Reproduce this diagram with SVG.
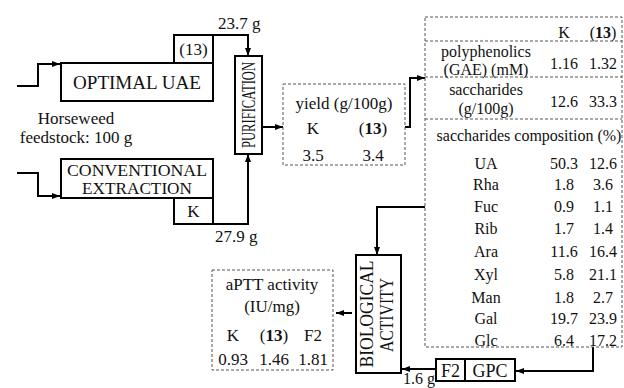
<svg xmlns="http://www.w3.org/2000/svg" width="624" height="388" viewBox="0 0 624 388">
<defs>
<marker id="ah" viewBox="0 0 8 6" refX="8" refY="3" markerWidth="8" markerHeight="6" markerUnits="userSpaceOnUse" orient="auto">
<path d="M0,0 L8,3 L0,6 z" fill="#000"/>
</marker>
<style>
text{font-family:"Liberation Serif","Times New Roman",serif;fill:#111;}
.box{fill:#fff;stroke:#000;stroke-width:2;}
.dash{fill:#fff;stroke:#555;stroke-width:1;stroke-dasharray:3,2;}
.dl{stroke:#555;stroke-width:1;stroke-dasharray:3,2;fill:none;}
.c{stroke:#000;stroke-width:2;fill:none;}
.ca{stroke:#000;stroke-width:2;fill:none;marker-end:url(#ah);}
.m{text-anchor:middle;}
.t16{font-size:16px;}
.t17{font-size:17px;}
.t18{font-size:18px;}
.t19{font-size:19px;}
.b{font-weight:bold;}
</style>
</defs>
<rect width="624" height="388" fill="#fff"/>

<g id="connectors">
<path class="ca" d="M17,86 H38 V64 H60"/>
<path class="ca" d="M17,173 H38 V196 H60"/>
<path class="ca" d="M213,35 H248 V56"/>
<path class="ca" d="M213,224 H248 V154"/>
<path class="ca" d="M262,127 H283"/>
<path class="ca" d="M405,127 H410 V78 H425"/>
<path class="ca" d="M425,207 H377 V255"/>
<path class="ca" d="M352,313 H336"/>
<path class="ca" d="M593,347 V371 H516"/>
<path class="ca" d="M436,369 H402"/>
</g>

<g id="label-23-7">
<text class="t17" x="218" y="29">23.7 g</text>
</g>
<g id="label-27-9">
<text class="t17" x="215" y="242">27.9 g</text>
</g>
<g id="label-1-6">
<text class="t16" x="403" y="384">1.6 g</text>
</g>

<g id="feedstock">
<text class="t17 m" x="76" y="124">Horseweed</text>
<text class="t17 m" x="76" y="143">feedstock: 100 g</text>
</g>

<g id="optimal-uae">
<rect class="box" x="174" y="35" width="39" height="28"/>
<text class="t17 m" x="193.5" y="55">(13)</text>
<rect class="box" x="61" y="63" width="152" height="38"/>
<text class="t18 m" x="137" y="89" textLength="128" lengthAdjust="spacingAndGlyphs">OPTIMAL UAE</text>
</g>

<g id="conventional">
<rect class="box" x="61" y="159" width="152" height="39"/>
<text class="t17 m" x="137" y="176" textLength="140" lengthAdjust="spacingAndGlyphs">CONVENTIONAL</text>
<text class="t17 m" x="137" y="194" textLength="110" lengthAdjust="spacingAndGlyphs">EXTRACTION</text>
<rect class="box" x="174" y="198" width="39" height="26"/>
<text class="t17 m" x="193.5" y="217">K</text>
</g>

<g id="purification">
<rect class="box" x="235" y="56" width="27" height="98"/>
<text class="t19 m" transform="translate(255,105) rotate(-90)" x="0" y="0" textLength="86" lengthAdjust="spacingAndGlyphs">PURIFICATION</text>
</g>

<g id="yield">
<rect class="dash" x="283" y="84" width="122" height="81"/>
<text class="t17 m" x="344" y="109">yield (g/100g)</text>
<text class="t17 m" x="313" y="134">K</text>
<text class="t17 m" x="373" y="134">(<tspan class="b">13</tspan>)</text>
<text class="t17 m" x="313" y="161">3.5</text>
<text class="t17 m" x="373" y="161">3.4</text>
</g>

<g id="composition-table">
<rect class="dash" x="425" y="17" width="197" height="330"/>
<path class="dl" d="M425,41 H622 M425,77 H622 M425,119 H622"/>
<text class="t16 m" x="564" y="38">K</text>
<text class="t16 m" x="603" y="38">(<tspan class="b">13</tspan>)</text>
<text class="t16 m" x="486" y="57">polyphenolics</text>
<text class="t16 m" x="486" y="75">(GAE) (mM)</text>
<text class="t16 m" x="564" y="69">1.16</text>
<text class="t16 m" x="603" y="69">1.32</text>
<text class="t16 m" x="486" y="95">saccharides</text>
<text class="t16 m" x="486" y="114">(g/100g)</text>
<text class="t16 m" x="564" y="107">12.6</text>
<text class="t16 m" x="603" y="107">33.3</text>
<text class="t16 m" x="529" y="141">saccharides composition (%)</text>
<g class="t16">
<text class="m" x="486" y="169">UA</text><text class="m" x="564" y="169">50.3</text><text class="m" x="603" y="169">12.6</text>
<text class="m" x="486" y="190">Rha</text><text class="m" x="564" y="190">1.8</text><text class="m" x="603" y="190">3.6</text>
<text class="m" x="486" y="212">Fuc</text><text class="m" x="564" y="212">0.9</text><text class="m" x="603" y="212">1.1</text>
<text class="m" x="486" y="234">Rib</text><text class="m" x="564" y="234">1.7</text><text class="m" x="603" y="234">1.4</text>
<text class="m" x="486" y="257">Ara</text><text class="m" x="564" y="257">11.6</text><text class="m" x="603" y="257">16.4</text>
<text class="m" x="486" y="280">Xyl</text><text class="m" x="564" y="280">5.8</text><text class="m" x="603" y="280">21.1</text>
<text class="m" x="486" y="303">Man</text><text class="m" x="564" y="303">1.8</text><text class="m" x="603" y="303">2.7</text>
<text class="m" x="486" y="324">Gal</text><text class="m" x="564" y="324">19.7</text><text class="m" x="603" y="324">23.9</text>
<text class="m" x="486" y="346">Glc</text><text class="m" x="564" y="346">6.4</text><text class="m" x="603" y="346">17.2</text>
</g>
</g>

<g id="gpc">
<rect class="box" x="436" y="359" width="79" height="22"/>
<line x1="465" y1="359" x2="465" y2="381" stroke="#000" stroke-width="2"/>
<text class="t18 m" x="450.5" y="377">F2</text>
<text class="t18 m" x="490" y="377">GPC</text>
</g>

<g id="biological-activity">
<rect class="box" x="356" y="255" width="45" height="118"/>
<text class="t19 m" transform="translate(373,314) rotate(-90)" x="0" y="0" textLength="107" lengthAdjust="spacingAndGlyphs">BIOLOGICAL</text>
<text class="t19 m" transform="translate(393,315) rotate(-90)" x="0" y="0" textLength="74" lengthAdjust="spacingAndGlyphs">ACTIVITY</text>
</g>

<g id="aptt">
<rect class="dash" x="212" y="270" width="121" height="100"/>
<text class="t17 m" x="272" y="290">aPTT activity</text>
<text class="t17 m" x="272" y="312">(IU/mg)</text>
<text class="t17 m" x="233" y="341">K</text>
<text class="t17 m" x="274" y="341">(<tspan class="b">13</tspan>)</text>
<text class="t17 m" x="313" y="341">F2</text>
<text class="t17 m" x="233" y="365">0.93</text>
<text class="t17 m" x="274" y="365">1.46</text>
<text class="t17 m" x="313" y="365">1.81</text>
</g>
</svg>
